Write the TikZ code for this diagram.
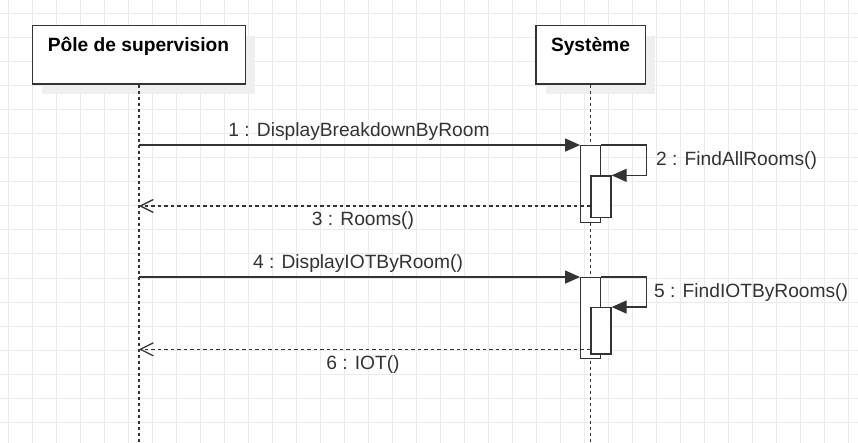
\documentclass[tikz,border=0pt]{standalone}
\usepackage{fontspec}
\setmainfont{Liberation Sans}
\usetikzlibrary{arrows.meta}
\definecolor{gridc}{HTML}{EBEBEB}
\definecolor{shad}{HTML}{EFEFEF}
\definecolor{ln}{HTML}{333333}
\begin{document}
\begin{tikzpicture}[x=1pt,y=-1pt,
  font=\fontsize{19.2}{23}\selectfont,
  actorbox/.style={draw=ln, line width=1.3pt, fill=white, inner sep=0pt, minimum height=58.3pt},
  titletext/.style={font=\fontsize{19.2}{23}\selectfont\bfseries, text=black, anchor=base, inner sep=0pt},
  lab/.style={text=ln, anchor=base, inner sep=0pt},
  life/.style={draw=ln, line width=1.3pt, dash pattern=on 3pt off 3pt},
  actbox/.style={draw=ln, line width=1.3pt, fill=white, inner sep=0pt, minimum width=20pt},
  msg/.style={draw=ln, line width=1.3pt, -{Triangle[length=15pt,width=13pt]}},
  ret/.style={draw=ln, line width=1.3pt, dash pattern=on 3.5pt off 3pt, -{Straight Barb[length=13pt,width=13pt]}}
]
\useasboundingbox (0,0) rectangle (858,443);
\fill[white] (0,0) rectangle (858,443);
% grid
\foreach \x in {8,32,...,856} \draw[gridc, line width=1pt] (\x,0) -- (\x,443);
\foreach \y in {14,38,...,442} \draw[gridc, line width=1pt] (0,\y) -- (858,\y);
% shadows
\fill[shad] (42,36) rectangle (255.3,94.3);
\fill[shad] (546,36) rectangle (655.3,94.3);
% actor boxes
\node[actorbox, minimum width=213.3pt] (pole) at (138.9,54.85) {};
\node[actorbox, minimum width=109.3pt] (sys) at (590.7,54.85) {};
\node[titletext] (poleT) at (138.5,51.7) {Pôle de supervision};
\node[titletext] (sysT) at (590.5,51.7) {Système};
% lifelines
\coordinate (poleEnd) at (pole.south |- 0,443);
\coordinate (sysEnd) at (sys.south |- 0,443);
\draw[life] (pole.south) -- (poleEnd);
\draw[life] (sys.south) -- (sysEnd);
% activations
\node[actbox, minimum height=76.6pt] (a1) at (590.7,184) {};
\node[actbox, minimum height=41.7pt] (a1b) at (601,196.85) {};
\node[actbox, minimum height=81pt] (a2) at (590.7,318.2) {};
\node[actbox, minimum height=46.3pt] (a2b) at (601,330.85) {};
% messages
\draw[msg] (pole.south |- a1.north west) -- (a1.north west);
\node[lab] (m1) at (359,136.7) {1 : DisplayBreakdownByRoom};
\draw[msg] (a1.north east) -- ++(45,0) |- (a1b.north east);
\node[lab, anchor=base west] (m2) at (656,165.7) {2 : FindAllRooms()};
\draw[ret] (a1b.west |- 0,206) -- (pole.south |- 0,206);
\node[lab] (m3) at (363,225.7) {3 : Rooms()};
\draw[msg] (pole.south |- a2.north west) -- (a2.north west);
\node[lab] (m4) at (358,268.3) {4 : DisplayIOTByRoom()};
\draw[msg] (a2.north east) -- ++(45,0) |- (a2b.north east);
\node[lab, anchor=base west] (m5) at (654,297.3) {5 : FindIOTByRooms()};
\draw[ret] (a2b.west |- 0,349.3) -- (pole.south |- 0,349.3);
\node[lab] (m6) at (363,369) {6 : IOT()};
\end{tikzpicture}
\end{document}
